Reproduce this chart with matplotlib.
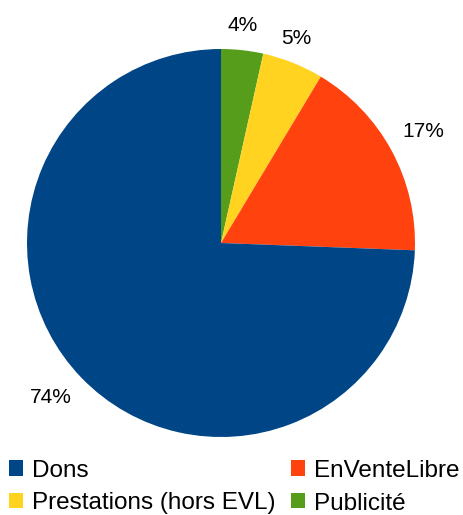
import matplotlib.pyplot as plt
from matplotlib.patches import Patch

plt.rcParams['font.family'] = ['Liberation Sans', 'DejaVu Sans']

labels = ['Dons', 'EnVenteLibre', 'Prestations (hors EVL)', 'Publicité']
values = [74.4, 17.0, 5.1, 3.5]
colors = ['#004586', '#ff420e', '#ffd320', '#579d1c']
# percent label positions in pie units (radius = 1)
label_pos = [(-0.876, -0.794), (1.041, 0.577), (0.387, 1.054), (0.113, 1.121)]

W, H = 464, 515
fig = plt.figure(figsize=(W / 100, H / 100), dpi=100)

# pie centre (221, 243) px from top-left, radius 194 px
cx, cy, r = 221, 243, 194
ax = fig.add_axes([(cx - r) / W, (H - cy - r) / H, 2 * r / W, 2 * r / H])

# clockwise from 12 o'clock: Publicité, Prestations, EnVenteLibre, Dons
order = [3, 2, 1, 0]
wedges, texts = ax.pie([values[i] for i in order],
                       colors=[colors[i] for i in order],
                       startangle=90, counterclock=False)
for v, (x, y) in zip(values, label_pos):
    ax.text(x, y, '%d%%' % round(v), ha='center', va='center',
            fontsize=15, clip_on=False)
ax.set_xlim(-1, 1)
ax.set_ylim(-1, 1)
ax.set_aspect('equal')

handles = [Patch(facecolor=c, edgecolor='none') for c in colors]
# ncol=2 fills column-wise, so reorder to get rows Dons/EnVenteLibre, Prestations/Publicité
idx = [0, 2, 1, 3]
fig.legend([handles[i] for i in idx], [labels[i] for i in idx], ncol=2,
           loc='lower left', bbox_to_anchor=(9 / W, 0.5 / H), frameon=False,
           fontsize=17.5, handlelength=0.58, handleheight=0.58,
           handletextpad=0.37, columnspacing=0.62, labelspacing=0.45,
           borderpad=0, borderaxespad=0)

fig.savefig('out.png', dpi=100)
